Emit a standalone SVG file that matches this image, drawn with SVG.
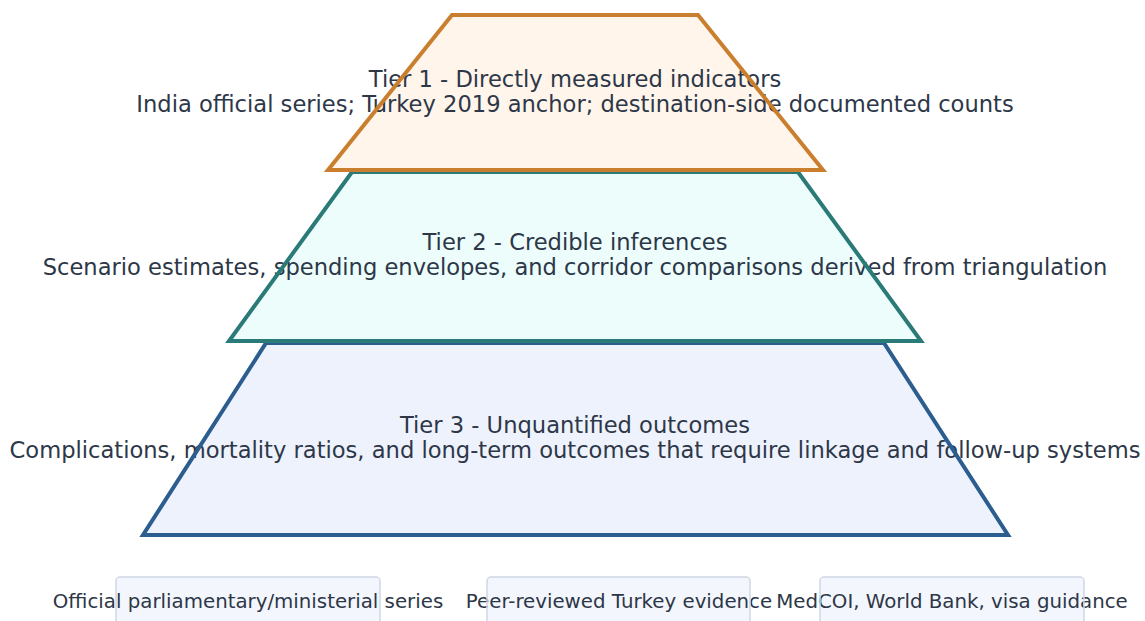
<svg xmlns="http://www.w3.org/2000/svg" width="1145" height="621" viewBox="0 0 1145 621">
<style>
.t{font-family:"DejaVu Sans",sans-serif;font-size:22.6px;fill:#2d3748;text-anchor:middle}
.s{font-family:"DejaVu Sans",sans-serif;font-size:19.8px;fill:#2d3748;text-anchor:middle}
.ol{fill:none;stroke-width:4;stroke-linejoin:miter}
.bx{fill:#f3f6fc}
.bxo{fill:none;stroke:#cfd8e3;stroke-width:1.5}
</style>
<rect width="1145" height="621" fill="#ffffff"/>
<g id="tier3">
<polygon points="266,343 884,343 1008,535 143,535" fill="#eef2fd"/>
<text class="t" x="575" y="433">Tier 3 - Unquantified outcomes</text>
<text class="t" x="575" y="458">Complications, mortality ratios, and long-term outcomes that require linkage and follow-up systems</text>
<polygon class="ol" points="266,343 884,343 1008,535 143,535" stroke="#2c5d8f"/>
</g>
<g id="tier2">
<polygon points="352,172 798,172 921,341 229,341" fill="#ecfdfc"/>
<text class="t" x="575" y="250">Tier 2 - Credible inferences</text>
<text class="t" x="575" y="275">Scenario estimates, spending envelopes, and corridor comparisons derived from triangulation</text>
<polygon class="ol" points="352,172 798,172 921,341 229,341" stroke="#2a7a78"/>
</g>
<g id="tier1">
<polygon points="452,15 698,15 823,170 328,170" fill="#fff5eb"/>
<text class="t" x="575" y="87">Tier 1 - Directly measured indicators</text>
<text class="t" x="575" y="112">India official series; Turkey 2019 anchor; destination-side documented counts</text>
<polygon class="ol" points="452,15 698,15 823,170 328,170" stroke="#c97f2e"/>
</g>
<g id="connectors"></g>
<g id="src1">
<rect class="bx" x="116" y="577" width="264" height="60" rx="4"/>
<text class="s" x="248" y="608">Official parliamentary/ministerial series</text>
<rect class="bxo" x="116" y="577" width="264" height="60" rx="4"/>
</g>
<g id="src2">
<rect class="bx" x="487" y="577" width="263" height="60" rx="4"/>
<text class="s" x="619" y="608">Peer-reviewed Turkey evidence</text>
<rect class="bxo" x="487" y="577" width="263" height="60" rx="4"/>
</g>
<g id="src3">
<rect class="bx" x="820" y="577" width="264" height="60" rx="4"/>
<text class="s" x="952" y="608">MedCOI, World Bank, visa guidance</text>
<rect class="bxo" x="820" y="577" width="264" height="60" rx="4"/>
</g>
</svg>
